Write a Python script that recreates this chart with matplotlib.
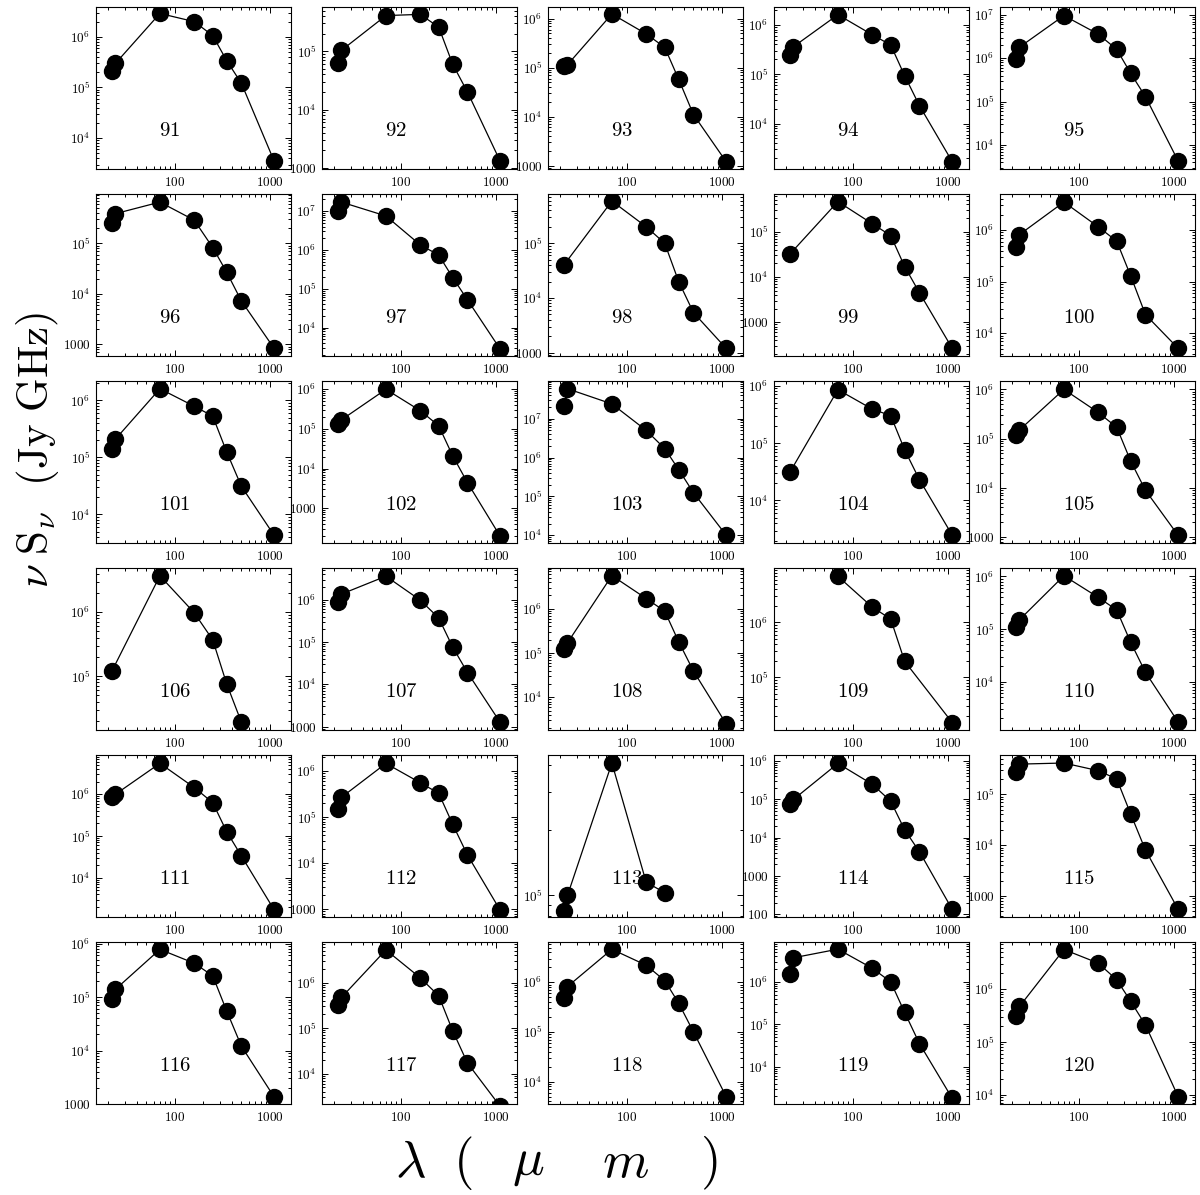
import numpy as np
import matplotlib
matplotlib.use("Agg")
import matplotlib.pyplot as plt
from matplotlib.ticker import LogLocator, FuncFormatter, NullFormatter

plt.rcParams['mathtext.fontset'] = 'cm'
plt.rcParams['font.family'] = ['DejaVu Serif']

nan = np.nan
# wavelengths in micron
wavelengths = [22, 24, 70, 160, 250, 350, 500, 1100]

source_ids = list(range(91, 121))

# nu S_nu (Jy GHz) for each source, ordered as wavelengths
sed_91 = [2.1e5, 3.0e5, 2.9e6, 2.0e6, 1.06e6, 3.4e5, 1.2e5, 3.5e3]
sed_92 = [6.3e4, 1.04e5, 4.1e5, 4.3e5, 2.6e5, 6.0e4, 2.0e4, 1.3e3]
sed_93 = [1.1e5, 1.15e5, 1.25e6, 4.9e5, 2.6e5, 5.8e4, 1.1e4, 1.2e3]
sed_94 = [2.5e5, 3.6e5, 1.6e6, 6.3e5, 3.9e5, 9.3e4, 2.3e4, 1.7e3]
sed_95 = [9.6e5, 1.8e6, 9.6e6, 3.6e6, 1.6e6, 4.5e5, 1.3e5, 4.3e3]
sed_96 = [2.6e5, 3.9e5, 6.6e5, 2.9e5, 8.3e4, 2.7e4, 7.2e3, 830]
sed_97 = [1.0e7, 1.7e7, 7.5e6, 1.35e6, 7.4e5, 1.95e5, 5.2e4, 2.8e3]
sed_98 = [4.0e4, nan, 5.9e5, 2.0e5, 1.0e5, 2.0e4, 5.4e3, 1.2e3]
sed_99 = [3.2e4, nan, 4.6e5, 1.5e5, 8.2e4, 1.7e4, 4.5e3, 270]
sed_100 = [4.8e5, 8.2e5, 3.5e6, 1.16e6, 6.1e5, 1.3e5, 2.3e4, 5.1e3]
sed_101 = [1.4e5, 2.1e5, 1.6e6, 7.9e5, 5.3e5, 1.25e5, 3.1e4, 4.3e3]
sed_102 = [1.3e5, 1.7e5, 1.0e6, 2.9e5, 1.2e5, 2.1e4, 4.4e3, 195]
sed_103 = [2.1e7, 5.9e7, 2.4e7, 5.0e6, 1.7e6, 4.9e5, 1.24e5, 1.0e4]
sed_104 = [3.1e4, nan, 8.5e5, 3.9e5, 3.0e5, 7.6e4, 2.3e4, 2.5e3]
sed_105 = [1.2e5, 1.5e5, 1.0e6, 3.4e5, 1.7e5, 3.5e4, 8.9e3, 1.08e3]
sed_106 = [1.2e5, nan, 3.7e6, 9.8e5, 3.7e5, 7.6e4, 1.9e4, nan]
sed_107 = [8.7e5, 1.36e6, 3.6e6, 9.8e5, 3.7e5, 7.6e4, 1.9e4, 1.26e3]
sed_108 = [1.2e5, 1.7e5, 5.6e6, 1.7e6, 8.8e5, 1.8e5, 3.9e4, 2.5e3]
sed_109 = [nan, nan, 6.9e6, 1.9e6, 1.15e6, 1.95e5, nan, 1.5e4]
sed_110 = [1.07e5, 1.5e5, 1.03e6, 4.0e5, 2.3e5, 5.6e4, 1.5e4, 1.7e3]
sed_111 = [8.8e5, 1.0e6, 5.5e6, 1.45e6, 6.3e5, 1.27e5, 3.3e4, 1.7e3]
sed_112 = [1.5e5, 2.7e5, 1.47e6, 5.6e5, 3.3e5, 7.0e4, 1.5e4, 950]
sed_113 = [8.5e4, 1.0e5, 4.1e5, 1.15e5, 1.03e5, nan, nan, nan]
sed_114 = [7.4e4, 1.0e5, 8.7e5, 2.5e5, 9.0e4, 1.6e4, 4.3e3, 135]
sed_115 = [2.7e5, 3.9e5, 4.1e5, 2.9e5, 2.0e5, 4.1e4, 8.0e3, 550]
sed_116 = [9.3e4, 1.4e5, 7.8e5, 4.3e5, 2.5e5, 5.5e4, 1.2e4, 1.35e3]
sed_117 = [3.2e5, 4.7e5, 5.2e6, 1.27e6, 5.1e5, 8.7e4, 1.7e4, 1.9e3]
sed_118 = [4.8e5, 8.2e5, 4.6e6, 2.2e6, 1.08e6, 3.8e5, 1.0e5, 5.0e3]
sed_119 = [1.5e6, 3.7e6, 5.9e6, 2.1e6, 1.0e6, 1.9e5, 3.5e4, 1.8e3]
sed_120 = [3.1e5, 4.7e5, 5.6e6, 3.1e6, 1.5e6, 5.9e5, 2.1e5, 9.3e3]

seds = [sed_91, sed_92, sed_93, sed_94, sed_95, sed_96, sed_97, sed_98, sed_99, sed_100,
        sed_101, sed_102, sed_103, sed_104, sed_105, sed_106, sed_107, sed_108, sed_109, sed_110,
        sed_111, sed_112, sed_113, sed_114, sed_115, sed_116, sed_117, sed_118, sed_119, sed_120]

# y-axis limits (log10) per panel
ylim_lo = [3.39, 2.98, 2.93, 3.08, 3.45, 2.77, 3.27, 2.94, 2.26, 3.56,
           3.50, 2.12, 3.80, 3.26, 2.88, 4.16, 2.92, 3.26, 4.04, 3.08,
           3.06, 2.83, 4.90, 1.93, 2.59, 3.00, 3.33, 3.55, 3.12, 3.83]
ylim_hi = [6.59, 5.76, 6.24, 6.36, 7.18, 5.98, 7.44, 5.90, 5.83, 6.70,
           6.34, 6.21, 7.97, 6.08, 6.17, 6.69, 6.75, 6.92, 6.99, 6.16,
           6.94, 6.35, 5.65, 6.16, 5.77, 6.03, 6.89, 6.81, 6.94, 6.89]
xlim = (15, 1650)

W, H = 1200, 1195
fig = plt.figure(figsize=(W / 100, H / 100), dpi=100)


def yfmt(v, pos):
    e = int(round(np.log10(v)))
    if e == 2:
        return r'$\mathrm{100}$'
    if e == 3:
        return r'$\mathrm{1000}$'
    return r'$10^{%d}$' % e


def xfmt(v, pos):
    e = int(round(np.log10(v)))
    if e == 2:
        return r'$\mathrm{100}$'
    if e == 3:
        return r'$\mathrm{1000}$'
    return ''


ncol = 5
for k, sid in enumerate(source_ids):
    r, c = divmod(k, ncol)
    left_px = 96 + 226 * c
    top_px = 7 + 187 * r
    ax = fig.add_axes([left_px / W, 1 - (top_px + 162) / H, 195 / W, 162 / H])
    x = np.array(wavelengths, dtype=float)
    y = np.array(seds[k], dtype=float)
    m = np.isfinite(y)
    ax.plot(x[m], y[m], '-', color='black', lw=0.9, zorder=2)
    ax.plot(x[m], y[m], 'o', color='black', ms=11.5, zorder=3)
    ax.set_xscale('log')
    ax.set_yscale('log')
    ax.set_xlim(*xlim)
    ax.set_ylim(10 ** ylim_lo[k], 10 ** ylim_hi[k])
    ax.xaxis.set_major_locator(LogLocator(base=10, numticks=20))
    ax.xaxis.set_minor_locator(LogLocator(base=10, subs=np.arange(2, 10), numticks=20))
    ax.yaxis.set_major_locator(LogLocator(base=10, numticks=20))
    ax.yaxis.set_minor_locator(LogLocator(base=10, subs=np.arange(2, 10), numticks=20))
    ax.xaxis.set_major_formatter(FuncFormatter(xfmt))
    ax.yaxis.set_major_formatter(FuncFormatter(yfmt))
    ax.xaxis.set_minor_formatter(NullFormatter())
    ax.yaxis.set_minor_formatter(NullFormatter())
    ax.tick_params(which='both', direction='in', top=True, right=True, width=0.7)
    ax.tick_params(which='major', length=4.5, labelsize=9.5)
    ax.tick_params(axis='x', which='major', pad=5)
    ax.tick_params(axis='y', which='major', pad=4)
    ax.tick_params(which='minor', length=2.2)
    for s in ax.spines.values():
        s.set_linewidth(0.8)
    ax.text(0.325, 0.24, r'$\mathrm{%d}$' % sid, transform=ax.transAxes,
            ha='left', va='center', fontsize=15)

fig.text(38 / W, 1 - 450 / H, r'$\nu\ \mathrm{S}_\nu\ \ \mathrm{(Jy\ GHz)}$',
         rotation=90, ha='center', va='center', fontsize=31)

# x-axis title, spread out like the original lettering
xlabel_y = 1 - 1163 / H
xlabel_parts = [(r'$\lambda$', 410), (r'$($', 463), (r'$\mu$', 528),
                (r'$m$', 626), (r'$)$', 709)]
for txt, xp in xlabel_parts:
    fig.text(xp / W, xlabel_y, txt, ha='center', va='center', fontsize=38)

fig.savefig('out.png', dpi=100)
